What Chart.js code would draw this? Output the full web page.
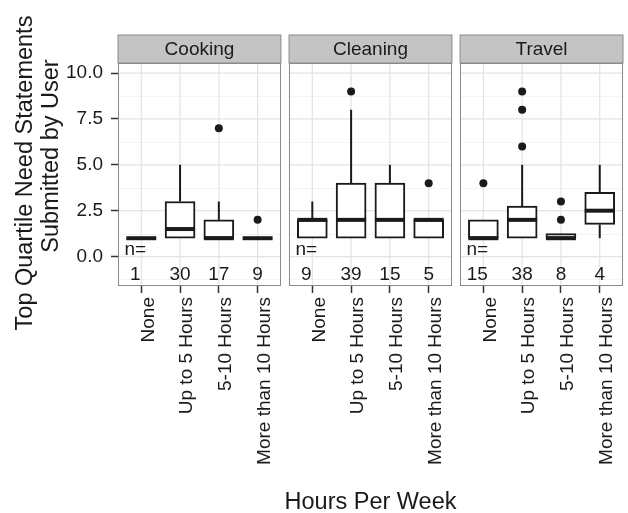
<!DOCTYPE html>
<html>
<head>
<meta charset="utf-8">
<script src="https://cdn.jsdelivr.net/npm/chart.js@4/dist/chart.umd.min.js"></script>
<style>
  html, body { margin: 0; padding: 0; background: #ffffff; }
  #wrap { width: 628px; height: 513px; position: relative; }
</style>
</head>
<body>
<div id="wrap"><canvas id="chart" width="628" height="513"></canvas></div>
<script>
// Facets and categories
const facets = ['Cooking', 'Cleaning', 'Travel'];
const hours = ['None', 'Up to 5 Hours', '5-10 Hours', 'More than 10 Hours'];
const yTicks = [0, 2.5, 5, 7.5, 10];
const yMinorTicks = [-1.25, 1.25, 3.75, 6.25, 8.75];

// Group sizes per facet (row) and category (column)
const groupSizes = [[1, 30, 17, 9], [9, 39, 15, 5], [15, 38, 8, 4]];

// Box plot statistics per facet and category
const whiskerLow = [[1, 1, 1, 1], [1, 1, 1, 1], [1, 1, 1, 1]];
const quartile1  = [[1, 1, 1, 1], [1, 1, 1, 1], [1, 1, 1, 1.75]];
const medians    = [[1, 1.5, 1, 1], [2, 2, 2, 2], [1, 2, 1, 2.5]];
const quartile3  = [[1, 3, 2, 1], [2, 4, 4, 2], [2, 2.75, 1.25, 3.5]];
const whiskerHigh = [[1, 5, 3, 1], [3, 8, 5, 2], [2, 5, 1.25, 5]];
const outlierValues = [
  [[], [], [7], [2]],
  [[], [9], [], [4]],
  [[4], [6, 8, 9], [2, 3], []]
];

// Panel layout on a shared linear x scale
const PANEL_STEP = 4.41;       // distance between panel origins (x units)
const PANEL_PAD = 0.6;         // expansion on each side of a panel
const X_MIN = 1 - PANEL_PAD;
const X_MAX = 4 + PANEL_PAD + PANEL_STEP * (facets.length - 1);
const Y_MIN = -1.55, Y_MAX = 10.55;

const FONT = '"Liberation Sans", Arial, Helvetica, sans-serif';
const INK = '#1a1a1a';

function xPos(p, k) { return k + 1 + p * PANEL_STEP; }

const tickPositions = [];
facets.forEach((f, p) => hours.forEach((h, k) => tickPositions.push(xPos(p, k))));

const boxData = [];
const outlierData = [];
facets.forEach((f, p) => {
  hours.forEach((h, k) => {
    boxData.push({ x: xPos(p, k), y: [quartile1[p][k], quartile3[p][k]] });
    outlierValues[p][k].forEach(v => outlierData.push({ x: xPos(p, k), y: v }));
  });
});

const facetPlugin = {
  id: 'facetPanels',
  beforeDatasetsDraw(chart) {
    const { ctx, chartArea } = chart;
    const xs = chart.scales.x, ys = chart.scales.y;
    const top = chartArea.top, bottom = chartArea.bottom;
    ctx.save();
    facets.forEach((name, p) => {
      const left = xs.getPixelForValue(X_MIN + p * PANEL_STEP);
      const right = xs.getPixelForValue(X_MIN + 4.2 + p * PANEL_STEP);
      ctx.fillStyle = '#ffffff';
      ctx.fillRect(left, top, right - left, bottom - top);
      // minor grid
      ctx.strokeStyle = '#f4f4f4';
      ctx.lineWidth = 1;
      yMinorTicks.forEach(v => {
        const py = Math.round(ys.getPixelForValue(v)) + 0.5;
        ctx.beginPath(); ctx.moveTo(left, py); ctx.lineTo(right, py); ctx.stroke();
      });
      // major grid
      ctx.strokeStyle = '#e3e3e3';
      ctx.lineWidth = 1.2;
      yTicks.forEach(v => {
        const py = ys.getPixelForValue(v);
        ctx.beginPath(); ctx.moveTo(left, py); ctx.lineTo(right, py); ctx.stroke();
      });
      hours.forEach((h, k) => {
        const px = xs.getPixelForValue(xPos(p, k));
        ctx.beginPath(); ctx.moveTo(px, top); ctx.lineTo(px, bottom); ctx.stroke();
      });
      // strip
      const stripH = 28;
      ctx.fillStyle = '#c4c4c4';
      ctx.fillRect(left, top - stripH, right - left, stripH);
      ctx.strokeStyle = '#8a8a8a';
      ctx.lineWidth = 1;
      ctx.strokeRect(left, top - stripH, right - left, stripH);
      ctx.fillStyle = INK;
      ctx.font = '19px ' + FONT;
      ctx.textAlign = 'center';
      ctx.textBaseline = 'middle';
      ctx.fillText(name, (left + right) / 2, top - stripH / 2 + 1);
      // whiskers
      ctx.strokeStyle = INK;
      ctx.lineWidth = 2;
      hours.forEach((h, k) => {
        const px = xs.getPixelForValue(xPos(p, k));
        const segs = [[whiskerLow[p][k], quartile1[p][k]], [quartile3[p][k], whiskerHigh[p][k]]];
        segs.forEach(([a, b]) => {
          if (b - a <= 0) return;
          ctx.beginPath();
          ctx.moveTo(px, ys.getPixelForValue(a));
          ctx.lineTo(px, ys.getPixelForValue(b));
          ctx.stroke();
        });
      });
    });
    ctx.restore();
  },
  afterDatasetsDraw(chart) {
    const { ctx, chartArea } = chart;
    const xs = chart.scales.x, ys = chart.scales.y;
    const top = chartArea.top, bottom = chartArea.bottom;
    const half = chart.data.datasets[0].barThickness / 2;
    ctx.save();
    facets.forEach((name, p) => {
      // medians
      ctx.strokeStyle = INK;
      ctx.lineWidth = 4;
      ctx.lineCap = 'butt';
      hours.forEach((h, k) => {
        const px = xs.getPixelForValue(xPos(p, k));
        const py = ys.getPixelForValue(medians[p][k]);
        ctx.beginPath(); ctx.moveTo(px - half, py); ctx.lineTo(px + half, py); ctx.stroke();
      });
      // group sizes
      ctx.fillStyle = INK;
      ctx.font = '19px ' + FONT;
      ctx.textAlign = 'center';
      const firstX = xs.getPixelForValue(xPos(p, 0)) - 6;
      ctx.textBaseline = 'alphabetic';
      ctx.fillText('n=', firstX, ys.getPixelForValue(0) - 2);
      ctx.textBaseline = 'middle';
      hours.forEach((h, k) => {
        const px = k === 0 ? firstX : xs.getPixelForValue(xPos(p, k));
        ctx.fillText(String(groupSizes[p][k]), px, ys.getPixelForValue(-1));
      });
      // panel border
      const left = xs.getPixelForValue(X_MIN + p * PANEL_STEP);
      const right = xs.getPixelForValue(X_MIN + 4.2 + p * PANEL_STEP);
      ctx.strokeStyle = '#8a8a8a';
      ctx.lineWidth = 1;
      ctx.strokeRect(Math.round(left) + 0.5, Math.round(top) + 0.5, Math.round(right - left) - 1, Math.round(bottom - top));
    });
    ctx.restore();
  },
  afterDraw(chart) {
    const { ctx } = chart;
    ctx.save();
    ctx.fillStyle = INK;
    ctx.font = '23.5px ' + FONT;
    ctx.textAlign = 'center';
    ctx.textBaseline = 'alphabetic';
    const xs = chart.scales.x;
    const cx = (xs.getPixelForValue(X_MIN) + xs.getPixelForValue(X_MAX)) / 2;
    ctx.fillText('Hours Per Week', cx, 509);
    ctx.save();
    ctx.translate(32, 173);
    ctx.rotate(-Math.PI / 2);
    ctx.fillText('Top Quartile Need Statements', 0, 0);
    ctx.restore();
    ctx.translate(58, 156);
    ctx.rotate(-Math.PI / 2);
    ctx.fillText('Submitted by User', 0, 0);
    ctx.restore();
  }
};

new Chart(document.getElementById('chart'), {
  type: 'bar',
  data: {
    datasets: [
      {
        type: 'bar',
        data: boxData,
        backgroundColor: '#ffffff',
        borderColor: INK,
        borderWidth: 2,
        borderSkipped: false,
        barThickness: 30,
        order: 2
      },
      {
        type: 'scatter',
        data: outlierData,
        backgroundColor: INK,
        borderColor: INK,
        pointRadius: 4,
        pointBorderWidth: 0,
        order: 1
      }
    ]
  },
  options: {
    responsive: false,
    animation: false,
    devicePixelRatio: 1,
    layout: { padding: { top: 63, right: 5, left: 0, bottom: 0 } },
    plugins: { legend: { display: false }, tooltip: { enabled: false } },
    scales: {
      x: {
        type: 'linear',
        min: X_MIN,
        max: X_MAX,
        offset: false,
        afterBuildTicks: (scale) => { scale.ticks = tickPositions.map(v => ({ value: v })); },
        afterFit: (scale) => { scale.height = 228; },
        grid: { display: true, drawOnChartArea: false, offset: false, tickLength: 8, tickColor: '#333333', tickWidth: 1.5 },
        border: { display: false },
        ticks: {
          autoSkip: false,
          minRotation: 90,
          maxRotation: 90,
          padding: 4,
          labelOffset: 7,
          color: INK,
          font: { family: FONT, size: 19 },
          callback: (value, index) => hours[index % hours.length]
        }
      },
      y: {
        type: 'linear',
        min: Y_MIN,
        max: Y_MAX,
        afterBuildTicks: (scale) => { scale.ticks = yTicks.map(v => ({ value: v })); },
        afterFit: (scale) => { scale.width = 118; },
        grid: { display: true, drawOnChartArea: false, tickLength: 7, tickColor: '#333333', tickWidth: 1.5 },
        border: { display: false },
        ticks: {
          padding: 8,
          color: INK,
          font: { family: FONT, size: 19 },
          callback: (value) => Number(value).toFixed(1)
        }
      }
    }
  },
  plugins: [facetPlugin]
});
</script>
</body>
</html>
